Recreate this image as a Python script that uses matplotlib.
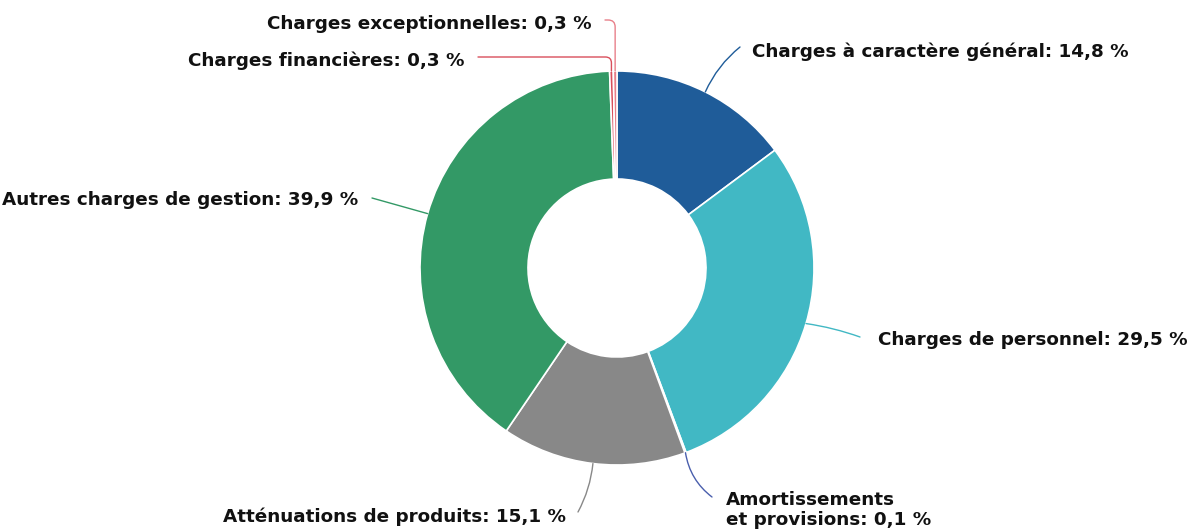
import numpy as np
import matplotlib
matplotlib.use("Agg")
import matplotlib.pyplot as plt

labels = [
    "Charges à caractère général",
    "Charges de personnel",
    "Amortissements\net provisions",
    "Atténuations de produits",
    "Autres charges de gestion",
    "Charges financières",
    "Charges exceptionnelles",
]
values = [14.8, 29.5, 0.1, 15.1, 39.9, 0.3, 0.3]
colors = ["#1f5c99", "#41b8c4", "#4a5fad", "#888888", "#339966", "#d94f5c", "#e8808a"]

# label anchor (x, y from top), alignment, connector start (x, y from top), connector style
label_pos = [
    (752, 52, "left", (740, 47), "arc3,rad=0.12"),
    (878, 340, "left", (860, 337), "arc3,rad=0.05"),
    (726, 510, "left", (712, 497), "arc3,rad=-0.2"),
    (566, 517, "right", (578, 512), "arc3,rad=0.1"),
    (358, 200, "right", (372, 198), "arc3,rad=0.0"),
    (465, 61, "right", (478, 57), "angle,angleA=0,angleB=90,rad=6"),
    (592, 24, "right", (605, 20), "angle,angleA=0,angleB=90,rad=7"),
]

W, H = 1190, 531
cx, cy = 617, H - 268
radius, ring = 197, 108

fig = plt.figure(figsize=(W / 100, H / 100), dpi=100)
ax = fig.add_axes([0, 0, 1, 1])

ax.pie(values, colors=colors, startangle=90, counterclock=False,
       radius=radius, center=(cx, cy), frame=True,
       wedgeprops=dict(width=ring, edgecolor="white", linewidth=1.2))
ax.set_xlim(0, W)
ax.set_ylim(0, H)
ax.axis("off")

total = sum(values)
start = 0.0
for lab, val, col, (lx, ly, ha, (sx, sy), cs) in zip(labels, values, colors, label_pos):
    mid = (start + val / 2) / total * 2 * np.pi
    start += val
    ex = cx + radius * np.sin(mid)
    ey = cy + radius * np.cos(mid)
    text = f"{lab}: {val:.1f} %".replace(".", ",")
    ax.text(lx, H - ly, text, ha=ha, va="center", fontsize=13.2, fontweight="bold",
            color="#111111", family="DejaVu Sans", linespacing=1.2,
            multialignment="left")
    ax.annotate("", xy=(ex, ey), xytext=(sx, H - sy),
                arrowprops=dict(arrowstyle="-", color=col, lw=1,
                                connectionstyle=cs, shrinkA=0, shrinkB=0))

fig.savefig("out.png", dpi=100, facecolor="white")
